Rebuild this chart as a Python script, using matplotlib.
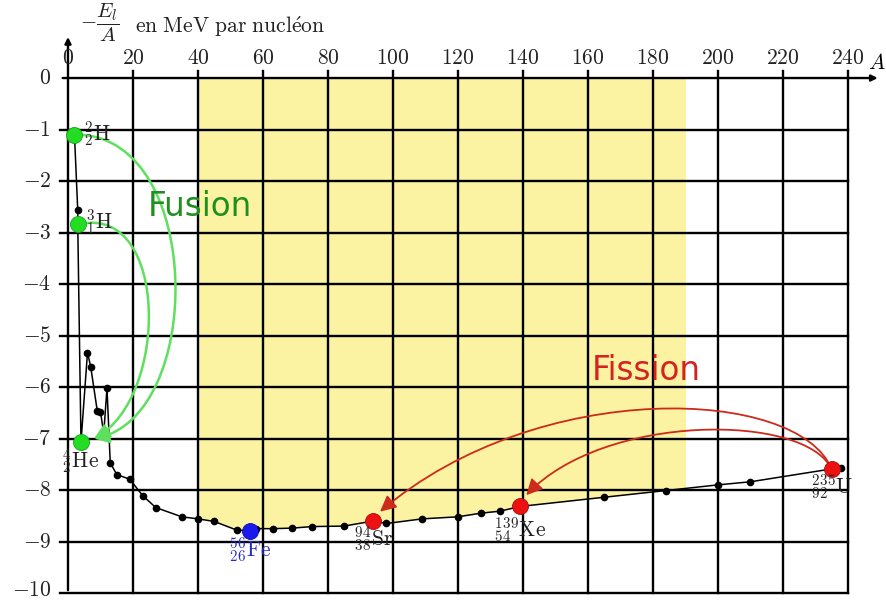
import numpy as np
import matplotlib
matplotlib.use("Agg")
import matplotlib.pyplot as plt
from matplotlib.patches import FancyArrowPatch
from matplotlib.path import Path

plt.rcParams['mathtext.fontset'] = 'cm'

# binding energy per nucleon
A = [2, 3, 3, 4, 6, 7, 9, 10, 11, 12, 13, 15, 19, 23, 27, 35, 40, 45, 52, 56, 58,
     63, 69, 75, 85, 94, 98, 109, 120, 127, 133, 139, 165, 184, 200, 210, 235, 238]
E = [-1.11, -2.57, -2.83, -7.07, -5.33, -5.61, -6.46, -6.48, -6.9, -6.02, -7.47,
     -7.7, -7.79, -8.11, -8.34, -8.52, -8.56, -8.61, -8.78, -8.79, -8.75, -8.75,
     -8.74, -8.71, -8.70, -8.60, -8.65, -8.56, -8.52, -8.45, -8.41, -8.32, -8.14,
     -8.01, -7.90, -7.84, -7.59, -7.57]

# highlighted nuclei
fusion_A = [2, 3, 4]
fusion_E = [-1.11, -2.83, -7.07]
fusion_lbl = [r'${}^{2}_{2}\mathrm{H}$', r'${}^{3}_{1}\mathrm{H}$', r'${}^{4}_{2}\mathrm{He}$']
fe_A, fe_E = 56, -8.79
fission_A = [94, 139, 235]
fission_E = [-8.60, -8.32, -7.59]
fission_lbl = [r'${}^{94}_{38}\mathrm{Sr}$', r'${}^{139}_{54}\mathrm{Xe}$', r'${}^{235}_{92}\mathrm{U}$']

xticks = list(range(0, 241, 20))
yticks = list(range(0, -11, -1))

fig = plt.figure(figsize=(8.87, 6.01), dpi=100)
ax = fig.add_axes([0, 0, 1, 1])
ax.set_xlim(-20.92, 252)
ax.set_ylim(-10.155, 1.515)
ax.axis('off')

fs = 15.5

# yellow zone between A=40 and A=190, above the curve
Aa = np.array(A, float)
Ea = np.array(E, float)
mask = (Aa > 40) & (Aa < 190)
zx = np.concatenate([[40], Aa[mask], [190]])
zy = np.concatenate([[np.interp(40, Aa[5:], Ea[5:])], Ea[mask], [np.interp(190, Aa[5:], Ea[5:])]])
ax.fill_between(zx, zy, 0, color='#fbf3a2', lw=0, zorder=0)

# grid
for x in xticks[1:]:
    ax.plot([x, x], [-10, 0.13], color='black', lw=1.7, zorder=1)
for y in yticks[1:]:
    ax.plot([-2.5, 240], [y, y], color='black', lw=1.7, zorder=1)

# axes with arrows
ax.annotate('', xy=(250, 0), xytext=(-2.5, 0),
            arrowprops=dict(arrowstyle='-|>', color='black', lw=1.7, mutation_scale=9))
ax.annotate('', xy=(0, 0.85), xytext=(0, -10),
            arrowprops=dict(arrowstyle='-|>', color='black', lw=1.7, mutation_scale=9))

for x in xticks:
    ax.text(x, 0.39, r'$%d$' % x, ha='center', va='center', fontsize=fs, color='#222222')
for y in yticks:
    ty = y + 0.05 if y == -10 else y
    ax.text(-5.2, ty, r'$%d$' % y, ha='right', va='center', fontsize=fs, color='#222222')
ax.text(246.2, 0.3, r'$A$', ha='left', va='center', fontsize=fs)
ax.text(3.8, 1.06, r'$-\dfrac{E_l}{A}$', ha='left', va='center', fontsize=15,
        color='#222222')
ax.text(20.6, 1.0, r'$\mathrm{en\ MeV\ par\ nucl\acute{e}on}$', ha='left', va='center',
        fontsize=fs, color='#222222')

# curve
ax.plot(A, E, color='black', lw=1.1, marker='o', ms=4.5, zorder=3)

# fusion arrows
fus_paths = [
    [(3.5, -1.1), (42, -1.2), (42, -6.6), (8, -7.0)],
    [(4, -2.83), (31, -2.5), (31, -6.2), (8, -7.0)],
]
for verts in fus_paths:
    p = Path(verts, [Path.MOVETO, Path.CURVE4, Path.CURVE4, Path.CURVE4])
    ax.add_patch(FancyArrowPatch(path=p, arrowstyle='-|>,head_length=0.6,head_width=0.3',
                                 mutation_scale=15, color='#5ee05e', lw=1.8, zorder=4))

# fission arrows
fis_paths = [
    [(235, -7.6), (225, -6.0), (145, -5.8), (96, -8.42)],
    [(235, -7.6), (227, -6.5), (165, -6.5), (141, -8.1)],
]
for verts in fis_paths:
    p = Path(verts, [Path.MOVETO, Path.CURVE4, Path.CURVE4, Path.CURVE4])
    ax.add_patch(FancyArrowPatch(path=p, arrowstyle='-|>,head_length=0.6,head_width=0.3',
                                 mutation_scale=16, color='#cc2a1a', lw=1.3, zorder=4))

# highlighted nuclei
ax.plot(fusion_A, fusion_E, 'o', color='#22dd22', ms=11.5, mec='#1aa01a', mew=0.6, zorder=5)
ax.plot(fe_A, fe_E, 'o', color='#1a1aee', ms=11.5, mec='#1010a0', mew=0.6, zorder=5)
ax.plot(fission_A, fission_E, 'o', color='#ee1111', ms=11.5, mec='#a01010', mew=0.6, zorder=5)

lbl_pos = [(5.0, -1.1), (5.5, -2.8), (-1.8, -7.45)]
for (lx, ly), s in zip(lbl_pos, fusion_lbl):
    ax.text(lx, ly, s, ha='left', va='center', fontsize=fs, color='#222222', zorder=6)
ax.text(49.5, -9.15, r'${}^{56}_{26}\mathrm{Fe}$', ha='left', va='center', fontsize=fs,
        color='#2a2acc', zorder=6)
lbl_pos = [(88, -8.95), (131, -8.78), (228.5, -7.94)]
for (lx, ly), s in zip(lbl_pos, fission_lbl):
    ax.text(lx, ly, s, ha='left', va='center', fontsize=fs, color='#222222', zorder=6)

ax.text(24.6, -2.5, 'Fusion', ha='left', va='center', fontsize=23.5, color='#1f8f1f',
        family='DejaVu Sans', zorder=6)
ax.text(161.2, -5.67, 'Fission', ha='left', va='center', fontsize=23.5, color='#d42222',
        family='DejaVu Sans', zorder=6)

fig.savefig('out.png', dpi=100)
